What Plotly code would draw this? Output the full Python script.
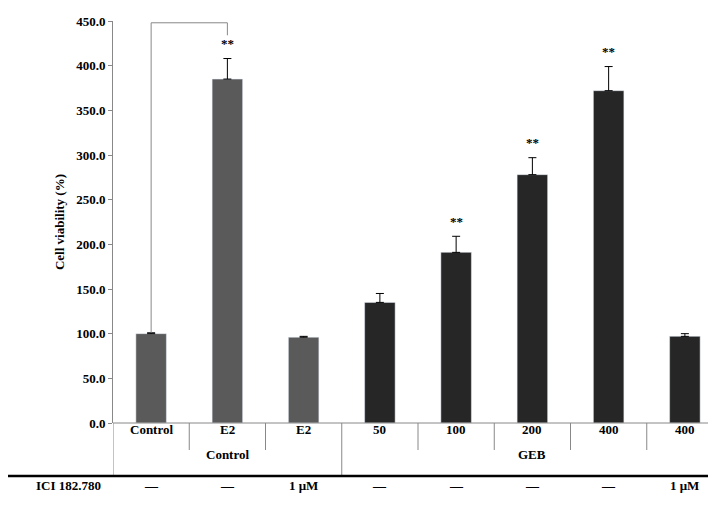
import plotly.graph_objects as go

cats = ["Control", "E2", "E2", "50", "100", "200", "400", "400"]
groups = ["Control", "GEB"]
ici = ["—", "—", "1 μM", "—", "—", "—", "—", "1 μM"]
values = [100.0, 385.0, 96.0, 135.0, 191.0, 278.0, 372.0, 97.0]
errors = [1.0, 23.0, 1.0, 10.0, 18.0, 19.0, 27.0, 3.0]
sig = ["", "**", "", "", "**", "**", "**", ""]
colors = ["#5a5a5a"] * 3 + ["#262626"] * 5
yticks = [0, 50, 100, 150, 200, 250, 300, 350, 400, 450]

F = dict(family="Liberation Serif", size=13, color="black")
x = list(range(len(cats)))
fig = go.Figure(go.Bar(x=x, y=values, marker_color=colors, width=0.4,
    error_y=dict(type="data", array=errors, arrayminus=[0]*len(errors), color="black", thickness=1, width=4)))

def py(p):  # pixel y to paper
    return (415 - p) / 402

ann, shp = [], []
for i, s in enumerate(sig):
    if s:
        ann.append(dict(x=i, y=values[i]+errors[i]+6, text="<b>"+s+"</b>", showarrow=False, yanchor="bottom", font=F))
for i, c in enumerate(cats):
    ann.append(dict(x=i, y=py(431), yref="paper", text="<b>"+c+"</b>", showarrow=False, font=F))
    ann.append(dict(x=i, y=py(487), yref="paper", text="<b>"+ici[i]+"</b>", showarrow=False, font=F))
ann.append(dict(x=1, y=py(456), yref="paper", text="<b>"+groups[0]+"</b>", showarrow=False, font=F))
ann.append(dict(x=5, y=py(456), yref="paper", text="<b>"+groups[1]+"</b>", showarrow=False, font=F))
ann.append(dict(x=-10/610, xref="paper", y=py(487), yref="paper", text="<b>ICI 182.780</b>", showarrow=False, xanchor="right", font=F))
for b in [0.5, 1.5, 3.5, 4.5, 5.5, 6.5]:
    shp.append(dict(type="line", xref="x", yref="paper", x0=b, x1=b, y0=0, y1=py(442), line=dict(color="#888", width=1)))
for b in [-0.5, 2.5]:
    shp.append(dict(type="line", xref="x", yref="paper", x0=b, x1=b, y0=0, y1=py(468), line=dict(color="#888", width=1)))
shp.append(dict(type="line", xref="paper", yref="paper", x0=-105/610, x1=1.01, y0=py(468), y1=py(468), line=dict(color="black", width=2.5)))
shp.append(dict(type="line", xref="paper", yref="paper", x0=-105/610, x1=1.01, y0=py(505), y1=py(505), line=dict(color="black", width=2.5)))
shp.append(dict(type="line", xref="x", yref="paper", x0=-0.5, x1=7.5, y0=0, y1=0, line=dict(color="#888", width=1)))
# bracket
shp.append(dict(type="path", xref="x", yref="y", path="M 0,101 L 0,448 L 1,448 L 1,434", line=dict(color="#888", width=1)))
fig.update_layout(width=716, height=510, margin=dict(l=105, r=1, t=13, b=95, autoexpand=False),
    plot_bgcolor="white", paper_bgcolor="white", showlegend=False,
    annotations=ann, shapes=shp, font=F,
    xaxis=dict(range=[-0.5, 7.5], showticklabels=False, showgrid=False, zeroline=False, automargin=False),
    yaxis=dict(range=[0, 450], tickvals=yticks, ticktext=[f"<b>{v:.1f}</b>" for v in yticks],
               showline=True, linecolor="#888", ticks="outside", ticklen=4, tickcolor="#888",
               showgrid=False, zeroline=False, automargin=False,
               title=dict(text="<b>Cell viability (%)</b>", font=dict(family="Liberation Serif", size=13), standoff=8)))
fig.write_html("out.html")
